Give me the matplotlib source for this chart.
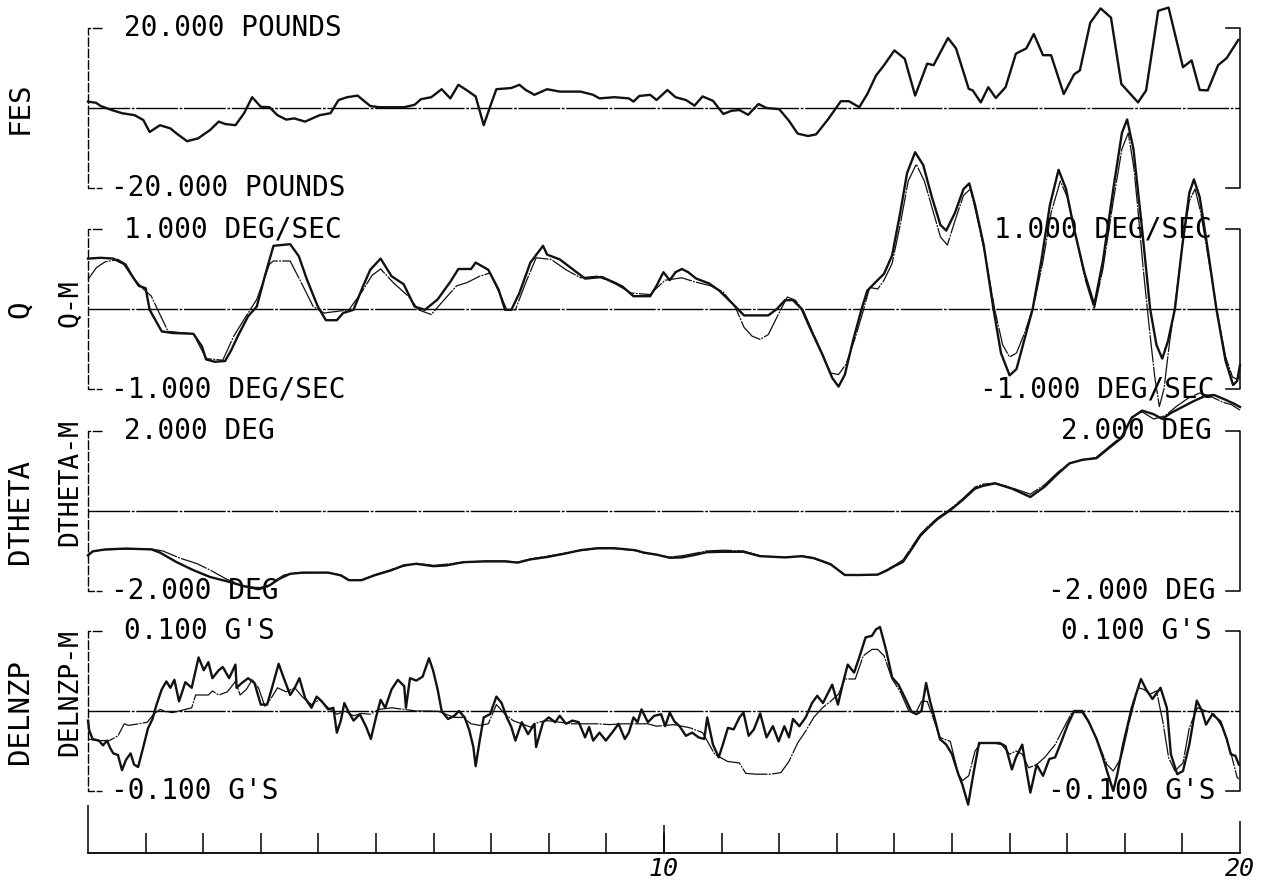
import numpy as np
import matplotlib.pyplot as plt

# ---- data (time in sec) ----
fes = [(0, 1.6), (0.14, 1.3), (0.22, 0.5), (0.41, -0.5), (0.59, -1.3), (0.81, -1.8), (0.96, -3.0),
       (1.07, -6.0), (1.25, -4.3), (1.43, -5.1), (1.54, -6.4), (1.72, -8.3), (1.91, -7.6), (2.12, -5.5),
       (2.27, -3.4), (2.38, -4.0), (2.56, -4.3), (2.71, -1.3), (2.85, 2.7), (3.0, 0.3), (3.15, 0.2),
       (3.29, -1.8), (3.44, -2.9), (3.58, -2.6), (3.77, -3.4), (4.02, -1.8), (4.21, -1.3), (4.35, 2.0),
       (4.5, 2.7), (4.68, 3.1), (4.9, 0.5), (5.05, 0.2), (5.49, 0.2), (5.67, 0.8), (5.78, 2.2), (5.96, 2.7),
       (6.14, 4.7), (6.29, 2.4), (6.43, 5.8), (6.58, 4.4), (6.73, 2.9), (6.87, -4.3), (6.98, 0.3), (7.09, 4.7),
       (7.35, 5.0), (7.49, 5.8), (7.6, 4.5), (7.75, 3.3), (7.97, 4.7), (8.19, 4.1), (8.55, 4.1), (8.77, 3.3),
       (8.88, 2.4), (9.14, 2.7), (9.39, 2.4), (9.47, 1.6), (9.57, 3.0), (9.76, 3.3), (9.87, 2.0), (10.06, 4.5),
       (10.2, 2.7), (10.38, 2.0), (10.53, 0.6), (10.67, 2.9), (10.85, 1.8), (11.03, -1.5), (11.17, -0.7),
       (11.31, -0.5), (11.46, -1.7), (11.64, 1.0), (11.78, 0.0), (12.0, -0.3), (12.17, -3.2), (12.32, -6.4),
       (12.5, -7.0), (12.64, -6.6), (12.85, -2.8), (13.07, 1.7), (13.21, 1.7), (13.39, 0.2), (13.53, 3.5),
       (13.68, 8.1), (13.82, 10.7), (14.0, 14.4), (14.18, 12.3), (14.36, 3.1), (14.57, 11.1), (14.68, 10.7),
       (14.93, 17.5), (15.07, 14.9), (15.29, 4.8), (15.36, 4.4), (15.5, 1.4), (15.63, 5.2), (15.76, 2.5),
       (15.93, 5.2), (16.11, 13.6), (16.29, 14.9), (16.42, 18.5), (16.58, 13.2), (16.72, 13.2), (16.94, 3.5),
       (17.12, 8.4), (17.22, 9.4), (17.4, 21.3), (17.58, 24.9), (17.76, 22.6), (17.94, 6.0), (18.23, 1.4),
       (18.37, 4.4), (18.58, 24.3), (18.76, 25.1), (19.01, 10.2), (19.16, 11.9), (19.3, 4.5), (19.44, 4.4),
       (19.62, 10.7), (19.77, 12.5), (19.97, 17.0)]

q_meas = [(0, 0.63), (0.22, 0.64), (0.44, 0.63), (0.63, 0.56), (0.77, 0.41), (0.88, 0.29), (1.0, 0.26),
          (1.07, -0.01), (1.28, -0.28), (1.47, -0.30), (1.83, -0.31), (1.98, -0.47), (2.05, -0.63), (2.2, -0.66),
          (2.38, -0.65), (2.49, -0.51), (2.6, -0.34), (2.78, -0.09), (2.93, 0.03), (3.07, 0.41), (3.22, 0.79),
          (3.51, 0.81), (3.66, 0.66), (3.8, 0.37), (3.99, 0.03), (4.13, -0.14), (4.32, -0.14), (4.43, -0.05),
          (4.61, -0.01), (4.76, 0.26), (4.9, 0.49), (5.08, 0.63), (5.27, 0.41), (5.48, 0.31), (5.67, 0.03),
          (5.85, -0.01), (6.07, 0.12), (6.29, 0.34), (6.43, 0.50), (6.65, 0.50), (6.73, 0.58), (6.95, 0.49),
          (7.13, 0.24), (7.24, -0.01), (7.35, -0.01), (7.49, 0.20), (7.68, 0.58), (7.9, 0.79), (7.97, 0.68),
          (8.19, 0.62), (8.41, 0.50), (8.63, 0.38), (8.92, 0.40), (9.14, 0.33), (9.28, 0.28), (9.47, 0.16),
          (9.76, 0.16), (9.87, 0.29), (9.99, 0.46), (10.1, 0.36), (10.2, 0.46), (10.31, 0.5), (10.42, 0.46),
          (10.56, 0.38), (10.78, 0.32), (10.96, 0.23), (11.13, 0.11), (11.28, 0.0), (11.39, -0.08), (11.6, -0.08),
          (11.81, -0.08), (11.96, 0.0), (12.1, 0.11), (12.24, 0.11), (12.39, 0.0), (12.53, -0.23), (12.75, -0.57),
          (12.92, -0.86), (13.03, -0.97), (13.14, -0.82), (13.28, -0.4), (13.43, 0.0), (13.53, 0.23), (13.68, 0.34),
          (13.82, 0.44), (13.96, 0.67), (14.1, 1.2), (14.22, 1.7), (14.36, 1.96), (14.5, 1.8), (14.65, 1.4),
          (14.8, 1.05), (14.9, 0.98), (15.05, 1.2), (15.2, 1.5), (15.3, 1.57), (15.4, 1.3), (15.55, 0.8),
          (15.72, 0.0), (15.85, -0.55), (16.0, -0.83), (16.12, -0.75), (16.25, -0.4), (16.4, 0.0), (16.55, 0.6),
          (16.7, 1.3), (16.85, 1.74), (16.98, 1.5), (17.12, 1.0), (17.3, 0.45), (17.47, 0.05), (17.62, 0.6),
          (17.8, 1.5), (17.95, 2.2), (18.04, 2.37), (18.15, 2.0), (18.3, 1.0), (18.44, 0.0), (18.55, -0.45),
          (18.65, -0.62), (18.75, -0.4), (18.87, 0.0), (19.0, 0.8), (19.12, 1.45), (19.2, 1.62), (19.3, 1.4),
          (19.45, 0.7), (19.59, 0.0), (19.75, -0.65), (19.88, -0.95), (19.95, -0.9), (20.0, -0.7)]

q_model = [(0, 0.37), (0.15, 0.52), (0.3, 0.59), (0.52, 0.62), (0.66, 0.56), (0.81, 0.37), (0.96, 0.25),
           (1.1, 0.16), (1.21, -0.01), (1.39, -0.28), (1.83, -0.31), (2.05, -0.62), (2.34, -0.64), (2.53, -0.34),
           (2.71, -0.13), (2.93, 0.12), (3.15, 0.56), (3.22, 0.60), (3.51, 0.60), (3.73, 0.29), (3.91, 0.03),
           (4.1, -0.05), (4.32, -0.03), (4.53, -0.01), (4.76, 0.22), (4.93, 0.42), (5.08, 0.50), (5.3, 0.33),
           (5.56, 0.16), (5.74, -0.01), (5.96, -0.07), (6.14, 0.08), (6.4, 0.29), (6.58, 0.33), (6.8, 0.41),
           (6.98, 0.45), (7.17, 0.16), (7.27, -0.01), (7.42, -0.01), (7.6, 0.33), (7.78, 0.64), (8.04, 0.62),
           (8.3, 0.49), (8.55, 0.39), (8.84, 0.41), (9.14, 0.32), (9.43, 0.2), (9.76, 0.18), (9.87, 0.26),
           (10.02, 0.36), (10.31, 0.39), (10.53, 0.34), (10.81, 0.29), (11.03, 0.21), (11.24, 0.02), (11.39, -0.23),
           (11.53, -0.34), (11.67, -0.38), (11.81, -0.32), (11.99, -0.06), (12.14, 0.15), (12.28, 0.11),
           (12.42, -0.02), (12.6, -0.32), (12.78, -0.61), (12.89, -0.8), (13.03, -0.82), (13.16, -0.69),
           (13.32, -0.36), (13.46, -0.02), (13.57, 0.27), (13.71, 0.25), (13.82, 0.36), (13.96, 0.57), (14.1, 1.05),
           (14.24, 1.6), (14.38, 1.81), (14.52, 1.6), (14.68, 1.2), (14.8, 0.9), (14.92, 0.8), (15.05, 1.1),
           (15.2, 1.42), (15.32, 1.5), (15.42, 1.2), (15.57, 0.7), (15.74, 0.0), (15.88, -0.45), (16.0, -0.6),
           (16.12, -0.55), (16.26, -0.3), (16.42, 0.05), (16.58, 0.6), (16.72, 1.2), (16.88, 1.6), (17.0, 1.4),
           (17.15, 0.9), (17.32, 0.35), (17.47, 0.0), (17.62, 0.5), (17.8, 1.35), (17.95, 2.0), (18.06, 2.2),
           (18.16, 1.75), (18.22, 1.3), (18.32, 0.5), (18.42, -0.2), (18.52, -0.85), (18.6, -1.22), (18.68, -1.0),
           (18.78, -0.4), (18.88, 0.1), (19.0, 0.8), (19.12, 1.35), (19.22, 1.5), (19.32, 1.2), (19.47, 0.55),
           (19.62, -0.1), (19.75, -0.6), (19.87, -0.85), (19.95, -0.88), (20.0, -0.85)]

dtheta_meas = [(0, -1.11), (0.08, -1.01), (0.3, -0.96), (0.66, -0.94), (1.1, -0.96), (1.25, -1.04), (1.54, -1.28),
               (1.83, -1.48), (2.12, -1.65), (2.42, -1.76), (2.71, -1.88), (2.96, -1.94), (3.15, -1.86),
               (3.33, -1.69), (3.51, -1.57), (3.73, -1.54), (4.17, -1.54), (4.39, -1.61), (4.53, -1.73),
               (4.75, -1.73), (4.97, -1.61), (5.27, -1.48), (5.48, -1.36), (5.7, -1.32), (6.0, -1.38),
               (6.22, -1.36), (6.51, -1.28), (6.87, -1.26), (7.24, -1.26), (7.46, -1.29), (7.68, -1.21),
               (7.97, -1.15), (8.26, -1.07), (8.55, -0.98), (8.84, -0.93), (9.14, -0.93), (9.36, -0.96),
               (9.5, -0.98), (9.65, -1.04), (9.87, -1.09), (10.1, -1.17), (10.31, -1.16), (10.53, -1.1),
               (10.74, -1.03), (11.03, -1.02), (11.38, -1.02), (11.67, -1.13), (12.1, -1.16), (12.39, -1.13),
               (12.6, -1.18), (12.89, -1.33), (13.14, -1.6), (13.39, -1.6), (13.71, -1.59), (13.85, -1.5),
               (14.0, -1.38), (14.15, -1.27), (14.3, -0.95), (14.45, -0.62), (14.6, -0.4), (14.75, -0.2),
               (14.97, 0.02), (15.18, 0.27), (15.4, 0.56), (15.54, 0.63), (15.75, 0.69), (16.04, 0.56),
               (16.36, 0.35), (16.61, 0.61), (16.83, 0.92), (17.04, 1.19), (17.26, 1.28), (17.51, 1.32),
               (17.72, 1.57), (17.94, 1.82), (18.12, 2.33), (18.3, 2.51), (18.5, 2.42), (18.65, 2.3),
               (18.8, 2.45), (19.0, 2.6), (19.2, 2.75), (19.4, 2.88), (19.55, 2.9), (19.75, 2.78),
               (19.9, 2.68), (20.0, 2.6)]

dtheta_model = [(0, -1.08), (0.1, -1.0), (0.3, -0.97), (0.66, -0.95), (1.1, -0.95), (1.3, -1.0), (1.6, -1.18),
                (1.9, -1.32), (2.15, -1.5), (2.4, -1.7), (2.7, -1.88), (2.95, -1.97), (3.1, -1.92), (3.25, -1.74),
                (3.4, -1.6), (3.6, -1.55), (4.17, -1.54), (4.39, -1.6), (4.53, -1.72), (4.75, -1.72), (4.97, -1.6),
                (5.27, -1.46), (5.48, -1.38), (5.7, -1.31), (6.0, -1.36), (6.22, -1.33), (6.51, -1.29),
                (6.87, -1.25), (7.24, -1.25), (7.46, -1.28), (7.68, -1.2), (7.97, -1.13), (8.26, -1.06),
                (8.55, -0.99), (8.84, -0.94), (9.14, -0.94), (9.36, -0.97), (9.5, -0.99), (9.65, -1.05),
                (9.87, -1.1), (10.1, -1.15), (10.31, -1.12), (10.53, -1.06), (10.74, -1.0), (11.03, -0.98),
                (11.38, -1.0), (11.67, -1.12), (12.1, -1.16), (12.39, -1.12), (12.6, -1.17), (12.89, -1.32),
                (13.14, -1.6), (13.39, -1.6), (13.71, -1.59), (13.85, -1.48), (14.0, -1.36), (14.15, -1.22),
                (14.3, -0.9), (14.45, -0.58), (14.6, -0.36), (14.75, -0.17), (14.97, 0.05), (15.18, 0.3),
                (15.4, 0.6), (15.54, 0.67), (15.75, 0.7), (16.04, 0.58), (16.36, 0.42), (16.61, 0.66),
                (16.83, 0.96), (17.04, 1.2), (17.26, 1.27), (17.51, 1.35), (17.72, 1.6), (17.94, 1.86),
                (18.12, 2.35), (18.3, 2.48), (18.5, 2.3), (18.7, 2.38), (18.9, 2.62), (19.1, 2.82), (19.3, 2.95),
                (19.5, 2.86), (19.7, 2.72), (19.85, 2.66), (20.0, 2.52)]

nz_meas = [(0, -0.012), (0.02, -0.024), (0.08, -0.035), (0.19, -0.037), (0.26, -0.043), (0.33, -0.037),
           (0.39, -0.047), (0.44, -0.053), (0.52, -0.055), (0.59, -0.074), (0.66, -0.061), (0.74, -0.053),
           (0.8, -0.067), (0.87, -0.070), (0.96, -0.045), (1.04, -0.022), (1.12, -0.010), (1.19, 0.008),
           (1.28, 0.027), (1.36, 0.037), (1.43, 0.029), (1.5, 0.039), (1.58, 0.012), (1.69, 0.036), (1.8, 0.029),
           (1.92, 0.067), (2.01, 0.051), (2.09, 0.061), (2.16, 0.041), (2.27, 0.051), (2.34, 0.055), (2.45, 0.041),
           (2.56, 0.058), (2.58, 0.029), (2.67, 0.035), (2.78, 0.041), (2.89, 0.035), (3.0, 0.008), (3.11, 0.008),
           (3.21, 0.033), (3.31, 0.059), (3.4, 0.041), (3.51, 0.020), (3.59, 0.029), (3.67, 0.041), (3.77, 0.016),
           (3.88, 0.004), (3.97, 0.018), (4.06, 0.012), (4.17, 0.002), (4.26, 0.004), (4.32, -0.027),
           (4.39, -0.012), (4.45, 0.010), (4.53, -0.002), (4.61, -0.012), (4.72, -0.004), (4.83, -0.020),
           (4.91, -0.035), (5.0, -0.008), (5.08, 0.014), (5.16, 0.004), (5.27, 0.027), (5.38, 0.039),
           (5.49, 0.031), (5.52, 0.004), (5.59, 0.041), (5.7, 0.038), (5.81, 0.043), (5.92, 0.066), (5.99, 0.051),
           (6.07, 0.027), (6.14, 0.0), (6.25, -0.010), (6.36, -0.006), (6.44, 0.0), (6.54, -0.008),
           (6.62, -0.024), (6.69, -0.045), (6.73, -0.069), (6.8, -0.037), (6.87, -0.008), (6.98, -0.004),
           (7.09, 0.018), (7.18, 0.010), (7.27, -0.008), (7.35, -0.020), (7.42, -0.037), (7.53, -0.014),
           (7.64, -0.029), (7.75, -0.016), (7.78, -0.045), (7.9, -0.014), (8.0, -0.008), (8.11, -0.014),
           (8.19, -0.006), (8.3, -0.016), (8.41, -0.012), (8.52, -0.014), (8.63, -0.033), (8.7, -0.020),
           (8.77, -0.037), (8.88, -0.027), (8.99, -0.037), (9.1, -0.027), (9.21, -0.016), (9.32, -0.035),
           (9.39, -0.027), (9.47, -0.008), (9.54, -0.014), (9.61, 0.002), (9.72, -0.014), (9.83, -0.006),
           (9.95, -0.004), (10.02, -0.019), (10.1, -0.002), (10.18, -0.013), (10.27, -0.019), (10.38, -0.031),
           (10.49, -0.027), (10.6, -0.033), (10.7, -0.035), (10.75, -0.008), (10.85, -0.042), (10.95, -0.058),
           (11.03, -0.040), (11.11, -0.021), (11.21, -0.023), (11.31, -0.008), (11.38, -0.002), (11.47, -0.031),
           (11.56, -0.023), (11.67, -0.003), (11.78, -0.033), (11.89, -0.019), (11.99, -0.038), (12.09, -0.019),
           (12.17, -0.033), (12.24, -0.010), (12.35, -0.019), (12.46, -0.008), (12.57, 0.010), (12.66, 0.019),
           (12.76, 0.010), (12.85, 0.023), (12.92, 0.033), (13.02, 0.008), (13.1, 0.033), (13.19, 0.058),
           (13.3, 0.048), (13.39, 0.067), (13.5, 0.092), (13.61, 0.094), (13.68, 0.102), (13.75, 0.105),
           (13.86, 0.075), (13.96, 0.042), (14.07, 0.033), (14.18, 0.017), (14.29, 0.0), (14.38, -0.004),
           (14.47, 0.0), (14.55, 0.035), (14.62, 0.012), (14.68, -0.004), (14.79, -0.035), (14.9, -0.042),
           (15.0, -0.054), (15.11, -0.079), (15.18, -0.092), (15.28, -0.117), (15.38, -0.075), (15.47, -0.040),
           (15.61, -0.040), (15.83, -0.040), (15.93, -0.044), (16.04, -0.073), (16.11, -0.058), (16.22, -0.042),
           (16.29, -0.073), (16.36, -0.102), (16.47, -0.067), (16.58, -0.081), (16.69, -0.060), (16.79, -0.058),
           (16.9, -0.038), (17.01, -0.017), (17.12, 0.0), (17.26, 0.0), (17.37, -0.013), (17.51, -0.035),
           (17.62, -0.058), (17.69, -0.075), (17.8, -0.1), (17.87, -0.079), (17.97, -0.042), (18.12, 0.004),
           (18.28, 0.040), (18.37, 0.027), (18.48, 0.015), (18.62, 0.029), (18.73, 0.004), (18.8, -0.054),
           (18.91, -0.079), (19.01, -0.075), (19.12, -0.042), (19.25, 0.013), (19.34, 0.0), (19.41, -0.017),
           (19.52, -0.004), (19.66, -0.013), (19.77, -0.035), (19.84, -0.054), (19.92, -0.056), (19.98, -0.067)]

nz_model = [(0, -0.035), (0.15, -0.037), (0.37, -0.037), (0.52, -0.031), (0.63, -0.016), (0.7, -0.018),
            (0.88, -0.016), (1.03, -0.014), (1.14, -0.004), (1.25, 0.002), (1.36, -0.001), (1.47, -0.002),
            (1.58, 0.0), (1.69, 0.002), (1.8, 0.004), (1.87, 0.020), (1.98, 0.020), (2.09, 0.020), (2.16, 0.025),
            (2.27, 0.020), (2.42, 0.024), (2.56, 0.037), (2.64, 0.020), (2.75, 0.027), (2.85, 0.039),
            (2.96, 0.029), (3.07, 0.006), (3.18, 0.016), (3.29, 0.029), (3.44, 0.024), (3.59, 0.029),
            (3.73, 0.017), (3.88, 0.008), (4.02, 0.014), (4.17, 0.004), (4.32, -0.004), (4.46, 0.0),
            (4.61, -0.006), (4.75, -0.003), (4.9, -0.004), (5.05, 0.002), (5.27, 0.004), (5.49, 0.002),
            (5.7, 0.0), (6.07, 0.0), (6.21, -0.004), (6.36, -0.008), (6.51, -0.008), (6.65, -0.016),
            (6.8, -0.018), (6.95, -0.016), (7.09, 0.008), (7.24, -0.004), (7.38, -0.012), (7.53, -0.016),
            (7.68, -0.020), (7.82, -0.014), (7.97, -0.012), (8.19, -0.014), (8.41, -0.016), (8.63, -0.016),
            (8.84, -0.016), (9.06, -0.017), (9.28, -0.016), (9.5, -0.016), (9.72, -0.016), (9.87, -0.019),
            (10.17, -0.017), (10.45, -0.021), (10.67, -0.027), (10.88, -0.054), (11.1, -0.063), (11.31, -0.065),
            (11.42, -0.078), (11.6, -0.079), (11.85, -0.079), (12.03, -0.077), (12.17, -0.063), (12.32, -0.040),
            (12.46, -0.025), (12.6, -0.008), (12.75, 0.004), (12.89, 0.012), (13.03, 0.021), (13.14, 0.040),
            (13.32, 0.040), (13.46, 0.069), (13.61, 0.077), (13.71, 0.077), (13.82, 0.069), (13.96, 0.040),
            (14.11, 0.023), (14.25, 0.0), (14.36, -0.004), (14.47, 0.012), (14.57, 0.012), (14.68, -0.010),
            (14.79, -0.033), (14.97, -0.038), (15.11, -0.079), (15.18, -0.087), (15.29, -0.081), (15.4, -0.050),
            (15.5, -0.040), (15.72, -0.040), (15.86, -0.042), (16.0, -0.054), (16.11, -0.050), (16.22, -0.054),
            (16.33, -0.071), (16.47, -0.067), (16.61, -0.058), (16.79, -0.042), (16.94, -0.021), (17.08, -0.002),
            (17.26, -0.002), (17.4, -0.017), (17.55, -0.042), (17.69, -0.067), (17.8, -0.075), (17.94, -0.058),
            (18.08, -0.013), (18.23, 0.029), (18.33, 0.027), (18.44, 0.021), (18.55, 0.025), (18.66, -0.013),
            (18.76, -0.058), (18.87, -0.075), (19.01, -0.065), (19.12, -0.021), (19.26, 0.004), (19.41, 0.0),
            (19.55, -0.004), (19.7, -0.021), (19.84, -0.052), (19.95, -0.083), (19.98, -0.085)]

time_ticks = list(range(1, 20))
time_labels = {10: "10", 20: "20"}

# ---- layout in pixels of the 1267x880 sheet ----
W, H = 1267, 880
X0, X1 = 88, 1240
HALF = 80
MONO = "DejaVu Sans Mono"
FS = 20

fig = plt.figure(figsize=(W / 100, H / 100), dpi=100)
ov = fig.add_axes([0, 0, 1, 1])
ov.set_xlim(0, W)
ov.set_ylim(H, 0)
ov.axis("off")


def panel(zero_px, rng):
    ax = fig.add_axes([X0 / W, 1 - (zero_px + HALF) / H, (X1 - X0) / W, 2 * HALF / H])
    ax.set_xlim(0, 20)
    ax.set_ylim(-rng, rng)
    ax.axis("off")
    ax.axhline(0, color="k", lw=1.0, dashes=(30, 1.2, 2, 1.2))
    return ax


def curve(ax, pts, model=False):
    t, v = np.array(pts).T
    if model:
        ax.plot(t, v, color="#111111", lw=0.9, dashes=(22, 1.0, 1.5, 1.0), clip_on=False)
    else:
        ax.plot(t, v, color="#111111", lw=1.7, clip_on=False)


def bracket(zero_px, right=True):
    top, bot = zero_px - HALF, zero_px + HALF
    ov.plot([X0 + 14, X0, X0, X0 + 14], [top, top, bot, bot], color="k", lw=1.0, dashes=(7, 1.2))
    if right:
        ov.plot([X1 - 14, X1, X1, X1 - 14], [top, top, bot, bot], color="k", lw=1.1)


panels = [
    (108, 20, [fes], [], "FES", None, ("20.000 POUNDS", "-20.000 POUNDS"), None),
    (309, 1, [q_meas], [q_model], "Q", ("Q-M", 303), ("1.000 DEG/SEC", "-1.000 DEG/SEC"),
     ("1.000 DEG/SEC", "-1.000 DEG/SEC")),
    (511, 2, [dtheta_meas], [dtheta_model], "DTHETA", ("DTHETA-M", 483), ("2.000 DEG", "-2.000 DEG"),
     ("2.000 DEG", "-2.000 DEG")),
    (711, 0.1, [nz_meas], [nz_model], "DELNZP", ("DELNZP-M", 692), ("0.100 G'S", "-0.100 G'S"),
     ("0.100 G'S", "-0.100 G'S")),
]

for zero_px, rng, meas, model, name, inner, left_lab, right_lab in panels:
    ax = panel(zero_px, rng)
    for pts in model:
        curve(ax, pts, model=True)
    for pts in meas:
        curve(ax, pts)
    bracket(zero_px)
    top, bot = zero_px - HALF, zero_px + HALF
    ov.text(20, zero_px, name, rotation=90, ha="center", va="center", fontsize=21, family=MONO)
    if inner:
        ov.text(70, inner[1], inner[0], rotation=90, ha="center", va="center", fontsize=19, family=MONO)
    ov.text(124, top, left_lab[0], ha="left", va="center", fontsize=FS, family=MONO)
    ov.text(111, bot, left_lab[1], ha="left", va="center", fontsize=FS, family=MONO)
    if right_lab:
        ov.text(1212, top, right_lab[0], ha="right", va="center", fontsize=FS, family=MONO)
        ov.text(1215, bot, right_lab[1], ha="right", va="center", fontsize=FS, family=MONO)

# ---- time axis ----
ax_t = fig.add_axes([X0 / W, 1 - 853 / H, (X1 - X0) / W, 20 / H])
ax_t.set_xlim(0, 20)
ax_t.set_ylim(0, 1)
ax_t.axis("off")
ax_t.axhline(0, color="k", lw=1.3, clip_on=False)
ax_t.vlines(time_ticks, 0, 1, color="k", lw=1.1)
ax_t.vlines([10], 0, 1.4, color="k", lw=1.1, clip_on=False)
ax_t.vlines([0], 0, 2.4, color="k", lw=1.1, clip_on=False)
ax_t.vlines([20], 0, 1.6, color="k", lw=1.1, clip_on=False)
for t, lab in time_labels.items():
    ax_t.text(t, -0.78, lab, ha="center", va="center", fontsize=18, family=MONO, style="italic")

fig.savefig("out.png", dpi=100, facecolor="white")
